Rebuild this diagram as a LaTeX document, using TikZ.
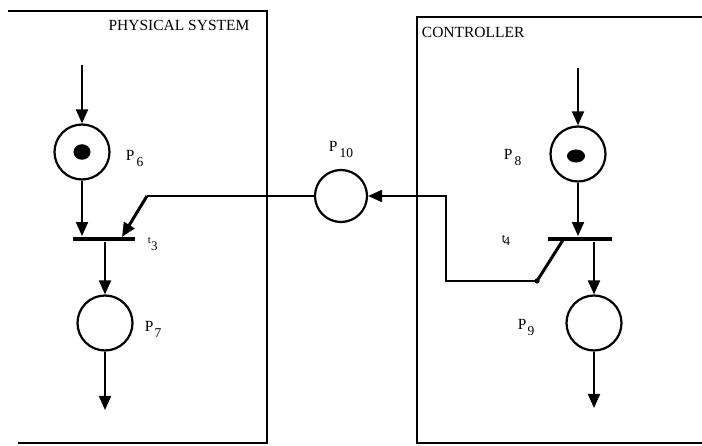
\documentclass[tikz,border=0pt]{standalone}
\usepackage{fontspec}
\setmainfont{Liberation Serif}
\usetikzlibrary{arrows.meta,shapes.geometric}
\newcommand\plab[2][2pt]{{\fontsize{15.5}{15.5}\selectfont P}\kern#1\raisebox{-5.5pt}{\fontsize{13.5}{13.5}\selectfont #2}}
\begin{document}
\begin{tikzpicture}[x=1pt,y=-1pt,
  line width=1.9pt,
  place/.style={circle,draw,line width=2.2pt,minimum size=55pt,inner sep=0pt},
  token/.style={ellipse,fill,inner sep=0pt},
  trans/.style={fill,rectangle,minimum width=62pt,minimum height=4pt,inner sep=0pt},
  arr/.style={-{Triangle[length=14pt,width=12pt]}},
  lbl/.style={inner sep=0pt,anchor=base west},
  boxlbl/.style={inner sep=0pt,font=\fontsize{15.5}{15.5}\selectfont}]
\useasboundingbox (0,0) rectangle (702,446);
% boxes
\draw (8,11) -- (267,11) -- (267,443) -- (18,443);
\draw (702,17) -- (417,17) -- (417,443) -- (702,443);
\node[boxlbl] (ps) at (179,25) {PHYSICAL SYSTEM};
\node[boxlbl,anchor=west] (ct) at (421,32) {CONTROLLER};
% places
\node[place] (p6) at (82,152) {};
\node[token,minimum width=17pt,minimum height=15.5pt] (k6) at (82,152) {};
\node[place] (p7) at (105,323) {};
\node[place,minimum size=52pt] (p10) at (341,196) {};
\node[place] (p8) at (578,154) {};
\node[token,minimum width=18pt,minimum height=13pt] (k8) at (576,156) {};
\node[place] (p9) at (594,323) {};
% transitions
\node[trans] (t3) at (104,239) {};
\node[trans,minimum width=64pt] (t4) at (580,239) {};
% coordinates
\coordinate (in6) at (82,65);
\coordinate (out7) at (105,410);
\coordinate (in8) at (578,68);
\coordinate (out9) at (594,408);
\coordinate (c1) at (147,196);
\coordinate (t3in) at (122,237);
\coordinate (t4out) at (563,240);
\coordinate (c2) at (537,281);
\coordinate (c3) at (446,281);
\coordinate (c4) at (446,196);
% arcs
\draw[arr] (in6) -- (p6.north);
\draw[arr] (p6.south) -- (t3.north -| p6.south);
\draw[arr] (t3.south -| p7.north) -- (p7.north);
\draw[arr] (p7.south) -- (out7);
\draw (p10.west) -- (c1);
\draw[arr,line width=3pt] (c1) -- (t3in);
\draw[arr] (in8) -- (p8.north);
\draw[arr] (p8.south) -- (t4.north -| p8.south);
\draw[arr] (t4.south -| p9.north) -- (p9.north);
\draw[arr] (p9.south) -- (out9);
\draw[line width=3pt] (t4out) -- (c2);
\fill (c2) circle (2.6pt);
\draw[arr] (c2) -- (c3) -- (c4) -- (p10.east);
% labels
\node[lbl] (l6) at (125,161) {\plab{6}};
\node[lbl] (l7) at (144,332) {\plab[1pt]{7}};
\node[lbl] (l10) at (328,152) {\plab{10}};
\node[lbl] (l8) at (503,160) {\plab{8}};
\node[lbl] (l9) at (517,330) {\plab[1pt]{9}};
\node[lbl] (lt3) at (147,244) {{\fontsize{11}{11}\selectfont t}\raisebox{-7pt}{\fontsize{13}{13}\selectfont 3}};
\node[lbl] (lt4) at (501,243) {{\fontsize{12.5}{12.5}\selectfont t}\kern-1.5pt\raisebox{-3pt}{\fontsize{12.5}{12.5}\selectfont 4}};
\end{tikzpicture}
\end{document}
